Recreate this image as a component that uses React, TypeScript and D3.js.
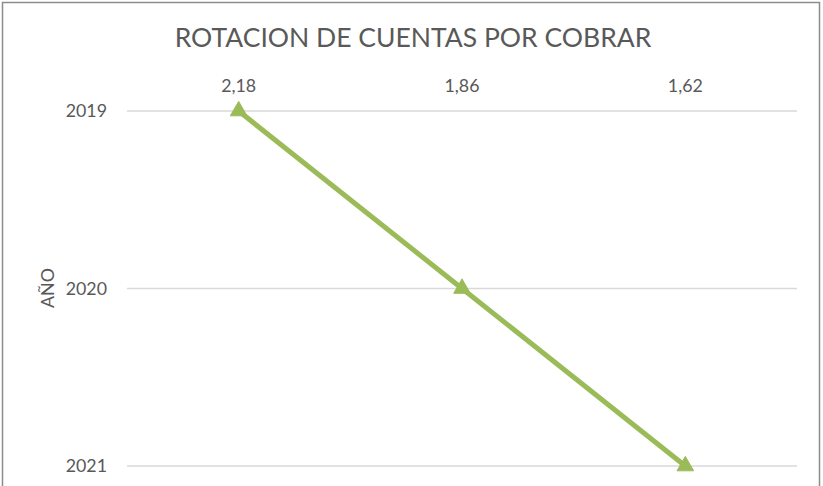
import React, { useEffect, useRef } from 'react';
import * as d3 from 'd3';

// chart data
const categories = ['2,18', '1,86', '1,62'];
const years = [2019, 2020, 2021];
const yearTicks = [2019, 2020, 2021];
const title = 'ROTACION DE CUENTAS POR COBRAR';
const yTitle = 'AÑO';

const width = 823;
const height = 486;

const App = () => {
    const svgRef = useRef(null);

    useEffect(() => {
        const svg = d3.select(svgRef.current);
        svg.selectAll('*').remove();

        const font = 'Lato, sans-serif';
        const textColor = '#595959';
        const lineColor = '#9BBB59';

        // outer chart border (bottom is cut off)
        svg.append('path')
            .attr('d', `M2.5,${height} L2.5,2.5 L819.5,2.5 L819.5,${height}`)
            .style('fill', 'none')
            .style('stroke', '#8c8c8c')
            .style('stroke-width', '1.5px');

        const x = d3.scaleBand()
            .domain(categories)
            .range([127, 797])
            .padding(0);

        const y = d3.scaleLinear()
            .domain([2019, 2021])
            .range([111, 466]);

        // gridlines
        svg.selectAll('.grid')
            .data(yearTicks)
            .enter().append('line')
            .attr('x1', 127)
            .attr('x2', 797)
            .attr('y1', d => y(d))
            .attr('y2', d => y(d))
            .style('stroke', '#d9d9d9')
            .style('stroke-width', '1.5px');

        // y tick labels
        svg.selectAll('.ylab')
            .data(yearTicks)
            .enter().append('text')
            .attr('x', 107)
            .attr('y', d => y(d))
            .attr('dy', '0.36em')
            .style('text-anchor', 'end')
            .style('font-family', font)
            .style('font-size', '17.8px')
            .style('fill', textColor)
            .text(d => d);

        // category labels on top
        svg.selectAll('.xlab')
            .data(categories)
            .enter().append('text')
            .attr('x', d => x(d) + x.bandwidth() / 2)
            .attr('y', 92)
            .style('text-anchor', 'middle')
            .style('font-family', font)
            .style('font-size', '17.8px')
            .style('fill', textColor)
            .text(d => d);

        // title
        svg.append('text')
            .attr('x', 413)
            .attr('y', 47)
            .style('text-anchor', 'middle')
            .style('font-family', font)
            .style('font-size', '26.5px')
            .style('fill', textColor)
            .text(title);

        // axis title
        svg.append('text')
            .attr('transform', 'translate(54, 288) rotate(-90)')
            .style('text-anchor', 'middle')
            .style('font-family', font)
            .style('font-size', '17.8px')
            .style('fill', textColor)
            .text(yTitle);

        const points = categories.map((c, i) => ({ c, year: years[i] }));

        const line = d3.line()
            .x(d => x(d.c) + x.bandwidth() / 2)
            .y(d => y(d.year));

        svg.append('path')
            .attr('d', line(points))
            .style('fill', 'none')
            .style('stroke', lineColor)
            .style('stroke-width', '5px')
            .style('stroke-linecap', 'round');

        const tri = d3.symbol().type(d3.symbolTriangle).size(120);
        svg.selectAll('.marker')
            .data(points)
            .enter().append('path')
            .attr('d', tri)
            .attr('transform', d => `translate(${x(d.c) + x.bandwidth() / 2}, ${y(d.year)})`)
            .style('fill', lineColor)
            .style('stroke', lineColor)
            .style('stroke-width', '1px');
    }, []);

    return (
        <svg ref={svgRef} width={width} height={height}
            style={{ position: 'absolute', left: 0, top: 0, background: '#fff' }}></svg>
    );
};

export default App;
